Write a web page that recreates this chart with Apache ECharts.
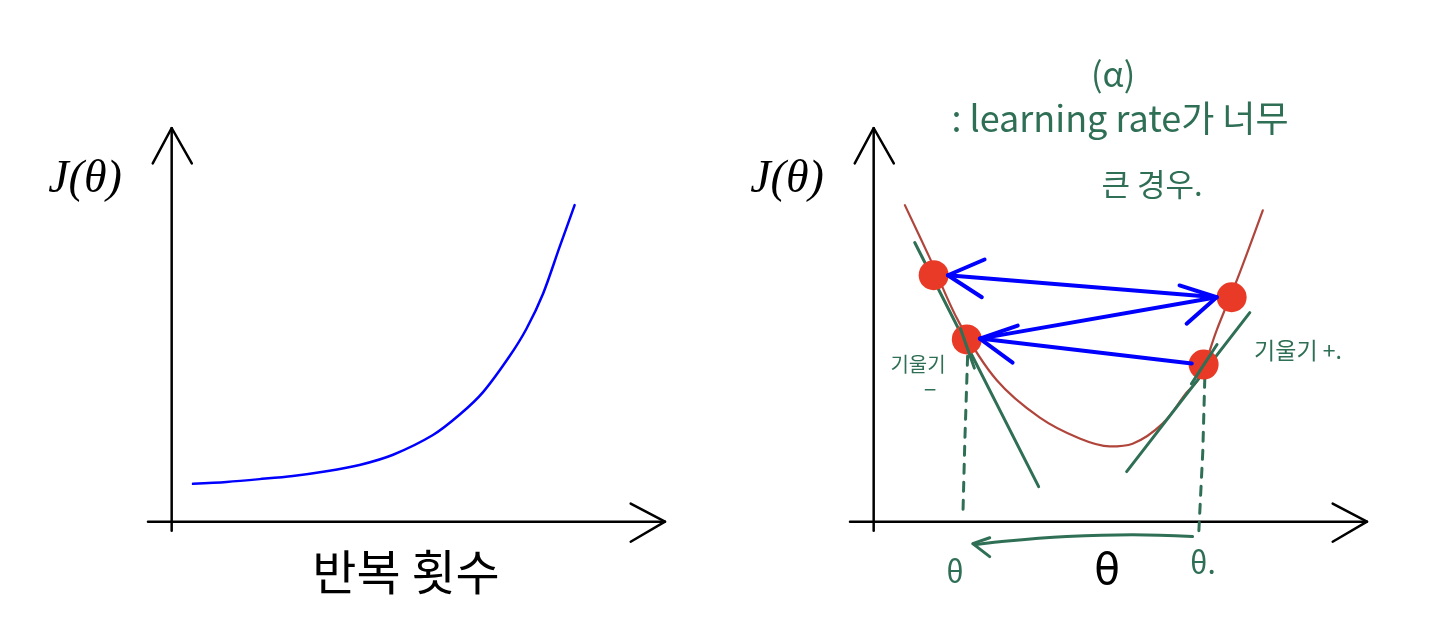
<!DOCTYPE html>
<html>
<head>
<meta charset="utf-8">
<script src="https://cdn.jsdelivr.net/npm/echarts@6/dist/echarts.min.js"></script>
<style>
html,body{margin:0;padding:0;background:#fff;}
#c{width:1439px;height:638px;}
</style>
</head>
<body>
<div id="c"></div>
<script>
// ---------- data (abstract units: x 0..125, y 0..100) ----------
// Left panel: cost vs number of iterations (diverging)
const costCurve = [[5.4,9.6],[13.9,10.1],[22.3,10.8],[30.7,11.6],[39.2,12.8],[47.6,14.4],[56.1,17.0],[66.2,22.0],[73.0,27.2],[78.9,32.9],[85.6,42.0],[89.9,49.0],[94.1,57.9],[98.3,69.8],[102.1,80.4]];

// Right panel: J(theta) parabola
const parabola = [[7.9,80.4],[14.2,67.0],[21.8,50.3],[31.2,35.9],[42.1,26.4],[52.2,21.1],[59.8,19.1],[65.6,19.8],[73.2,24.9],[79.3,32.8],[82.6,36.6],[86.9,48.6],[92.2,61.8],[98.6,79.1]];
// tangent lines (negative slope on left, positive slope on right)
const tangentNeg = [[10.4,70.9],[41.8,8.9]];
const tangentPos = [[64.1,12.7],[95.3,53.1]];
// iterates of theta (red points), in visiting order
const iterates = [[83.6,39.9],[23.6,46.3],[90.7,57.0],[15.2,62.6]];
// blue jump arrows: start, end
const jumpA = [[80.6,40.2],[26.9,46.5]];
const jumpB = [[26.9,46.5],[86.9,57.0]];
const jumpC = [[86.9,57.0],[18.8,62.6]];
// arrow heads (arm, tip, arm)
const headA = [[36.5,49.8],[26.9,46.5],[35.2,40.4]];
const headB = [[77.5,60.0],[86.9,57.0],[79.3,50.3]];
const headC = [[28.1,66.6],[18.8,62.6],[27.4,57.0]];
// dashed drop lines
const dropLeft = [[23.8,42.0],[23.1,20.6],[22.6,1.3]];
const dropRight = [[83.9,36.4],[83.4,18.0],[82.4,-2.3]];
// curved arrow under axis (theta moves left)
const moveArrow = [[80.8,-3.8],[65.6,-3.3],[48.9,-3.8],[31.9,-5.1],[25.6,-5.9]];
const moveHead = [[29.4,-4.1],[25.1,-5.6],[29.4,-8.9]];

// axes (shared shape)
const yAxisLine = [[0,-2.3],[0,100]];
const xAxisLine = [[-6,0],[125,0]];
const yArrow = [[-4.8,91.0],[0,100],[5.1,91.0]];
const xArrow = [[116.3,4.6],[125,0],[116.3,-5.1]];

// texts
const leftYLabel = 'J(θ)';
const leftXLabel = '반복 횟수';
const rightYLabel = 'J(θ)';
const rightXLabel = 'θ';

const GREEN = '#2e6f55';
const BLUE = '#0000ff';
const BROWN = '#b0453c';
const RED = '#e83a26';

const chart = echarts.init(document.getElementById('c'));

function ln(g, data, color, width, extra) {
  return Object.assign({
    type: 'line', xAxisIndex: g, yAxisIndex: g, data: data,
    symbol: 'none', silent: true, animation: false,
    lineStyle: {color: color, width: width, cap: 'round', join: 'round'}
  }, extra || {});
}

const series = [];
[0,1].forEach(g => {
  series.push(ln(g, yAxisLine, '#000', 2.5));
  series.push(ln(g, xAxisLine, '#000', 2.5));
  series.push(ln(g, yArrow, '#000', 2.5));
  series.push(ln(g, xArrow, '#000', 2.5));
});
series.push(ln(0, costCurve, BLUE, 2.5, {smooth: 0.3}));

series.push(ln(1, parabola, BROWN, 2.2, {smooth: 0.35}));
series.push(ln(1, tangentNeg, GREEN, 3));
series.push(ln(1, tangentPos, GREEN, 3));
series.push(ln(1, dropLeft, GREEN, 3, {lineStyle:{color:GREEN,width:3,type:[9,9],cap:'round'}}));
series.push(ln(1, dropRight, GREEN, 3, {lineStyle:{color:GREEN,width:3,type:[9,9],cap:'round'}}));
series.push(ln(1, moveArrow, GREEN, 3, {smooth: 0.4}));
series.push(ln(1, moveHead, GREEN, 3));
series.push({
  type: 'scatter', xAxisIndex: 1, yAxisIndex: 1, data: iterates,
  symbol: 'circle', symbolSize: 30, silent: true, animation: false,
  itemStyle: {color: RED, opacity: 1}, z: 3
});
[jumpA, jumpB, jumpC, headA, headB, headC].forEach(d => {
  series.push(ln(1, d, BLUE, 4, {z: 4}));
});
// small green tangent marks over the points
series.push(ln(1, [[22.0,49.0],[25.5,39.0]], GREEN, 3, {z: 5}));
series.push(ln(1, [[80.5,35.0],[87.0,45.0]], GREEN, 3, {z: 5}));

const hand = '"Noto Sans CJK KR", sans-serif';
function txt(t, x, y, size, color, family, style) {
  return {
    type: 'text', x: x, y: y, silent: true,
    style: {text: t, fill: color, font: (style ? style + ' ' : '') + size + 'px ' + family, align: 'center', verticalAlign: 'middle'}
  };
}

const graphic = [
  txt(leftYLabel, 85, 180, 46, '#000', '"Liberation Serif", serif', 'italic'),
  txt(rightYLabel, 787, 180, 46, '#000', '"Liberation Serif", serif', 'italic'),
  txt(leftXLabel, 406, 572, 48, '#000', hand),
  txt(rightXLabel, 1107, 573, 42, '#000', '"DejaVu Sans", sans-serif'),
  txt('(α)', 1113, 74, 34, GREEN, hand),
  txt(': learning rate가 너무', 1120, 118, 36, GREEN, hand),
  txt('큰 경우.', 1152, 184, 31, GREEN, hand),
  txt('기울기', 918, 364, 20, GREEN, hand),
  txt('−', 930, 390, 22, GREEN, hand),
  txt('기울기 +.', 1298, 350, 23, GREEN, hand),
  txt('θ', 955, 572, 30, GREEN, hand),
  txt('θ.', 1203, 563, 30, GREEN, hand)
];

const gridBox = {top: 128, width: 517, height: 433};
chart.setOption({
  backgroundColor: '#fff',
  animation: false,
  grid: [
    Object.assign({left: 148}, gridBox),
    Object.assign({left: 850}, gridBox)
  ],
  xAxis: [0,1].map(i => ({type:'value', gridIndex:i, min:-6, max:125, show:false})),
  yAxis: [0,1].map(i => ({type:'value', gridIndex:i, min:-10, max:100, show:false})),
  series: series,
  graphic: graphic
});
</script>
</body>
</html>
